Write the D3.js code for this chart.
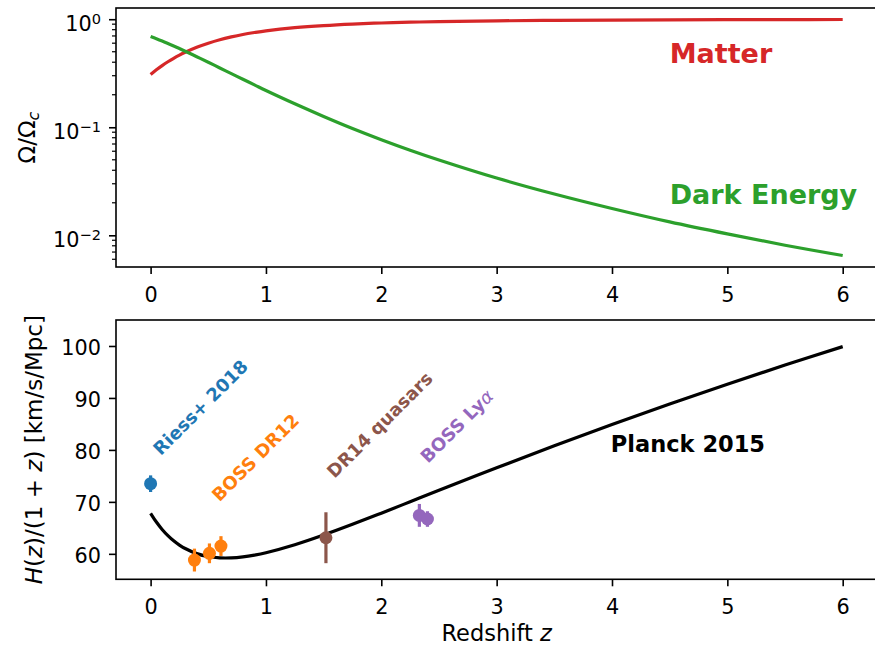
<!DOCTYPE html>
<html>
<head>
<meta charset="utf-8">
<script src="https://cdn.jsdelivr.net/npm/d3@7"></script>
<style>
  html, body { margin: 0; padding: 0; background: #ffffff; }
  svg { display: block; font-family: "DejaVu Sans", sans-serif; }
</style>
</head>
<body>
<svg id="chart" width="875" height="647"></svg>
<script>
// Redshift grid for the model curves
const redshift = [0, 0.05, 0.1, 0.15, 0.2, 0.25, 0.3, 0.4, 0.5, 0.6, 0.7, 0.8, 0.9, 1.0,
  1.25, 1.5, 1.75, 2.0, 2.25, 2.5, 3.0, 3.5, 4.0, 4.5, 5.0, 5.5, 6.0];
// Density fractions
const omegaMatter = [0.308, 0.340, 0.372, 0.404, 0.435, 0.465, 0.494, 0.550, 0.600, 0.646,
  0.686, 0.722, 0.753, 0.781, 0.835, 0.874, 0.9025, 0.923, 0.9386, 0.950, 0.966, 0.976,
  0.982, 0.987, 0.990, 0.992, 0.9935];
const omegaDarkEnergy = [0.692, 0.660, 0.628, 0.596, 0.565, 0.535, 0.506, 0.450, 0.400,
  0.354, 0.314, 0.278, 0.247, 0.219, 0.165, 0.126, 0.0975, 0.0768, 0.0614, 0.0498, 0.0339,
  0.0241, 0.0177, 0.0133, 0.0103, 0.0081, 0.0065];
// Planck 2015 expansion rate H(z)/(1+z)
const planckRate = [67.8, 66.12, 64.70, 63.51, 62.51, 61.69, 61.02, 60.04, 59.48, 59.23,
  59.23, 59.42, 59.76, 60.22, 61.76, 63.63, 65.68, 67.83, 70.02, 72.22, 76.56, 80.80,
  84.89, 88.84, 92.65, 96.32, 99.88];

// Measurements
const riessZ = [0.0],            riessH = [73.5],             riessErr = [1.6];
const bossZ = [0.38, 0.51, 0.61], bossH = [58.8, 60.1, 61.5],  bossErr = [2.2, 1.9, 1.9];
const qsoZ = [1.52],             qsoH = [63.1],               qsoErr = [4.9];
const lyaZ = [2.33, 2.40],       lyaH = [67.4, 66.7],         lyaErr = [2.2, 1.5];

// Tick values
const zTicks = [0, 1, 2, 3, 4, 5, 6];
const omegaTicks = [1, 0.1, 0.01];
const omegaTickLabels = [["10", "0"], ["10", "\u22121"], ["10", "\u22122"]];
const rateTicks = [60, 70, 80, 90, 100];

const svg = d3.select("#chart");
const FONT = "DejaVu Sans";
const TICK_FS = 20.8;
const LABEL_FS = 23;

const left = 116, right = 877.3;
const topPanel = { top: 8, bottom: 267 };
const botPanel = { top: 320, bottom: 579.3 };

const x = d3.scaleLinear().domain([-0.3, 6.3]).range([left, right]);
const yTop = d3.scaleLog().domain([0.00509, 1.27]).range([topPanel.bottom, topPanel.top]);
const yBot = d3.scaleLinear().domain([55.1, 105]).range([botPanel.bottom, botPanel.top]);

function styleAxis(g) {
  g.select(".domain").remove();
  g.selectAll(".tick line").attr("stroke", "#000").attr("stroke-width", 1.6);
  g.selectAll(".tick text").attr("fill", "#000").attr("font-size", TICK_FS).attr("font-family", FONT);
}

function panelFrame(p) {
  svg.append("rect")
    .attr("x", left).attr("y", p.top)
    .attr("width", right - left).attr("height", p.bottom - p.top)
    .attr("fill", "none").attr("stroke", "#000").attr("stroke-width", 1.6);
}

// ---------- Top panel: density fractions ----------
const gTopX = svg.append("g").attr("transform", `translate(0,${topPanel.bottom})`)
  .call(d3.axisBottom(x).tickValues(zTicks).tickFormat(d3.format("d")).tickSize(7).tickPadding(13));
styleAxis(gTopX);

// minor log ticks
const minorTicks = [];
[0.001, 0.01, 0.1].forEach(dec => {
  for (let k = 2; k <= 9; k++) {
    const v = k * dec;
    if (v >= yTop.domain()[0] && v <= yTop.domain()[1]) minorTicks.push(v);
  }
});
svg.append("g").selectAll("line").data(minorTicks).join("line")
  .attr("x1", left - 4).attr("x2", left)
  .attr("y1", d => yTop(d)).attr("y2", d => yTop(d))
  .attr("stroke", "#000").attr("stroke-width", 1.2);

const gTopY = svg.append("g").attr("transform", `translate(${left},0)`)
  .call(d3.axisLeft(yTop).tickValues(omegaTicks).tickSize(7).tickPadding(8).tickFormat(""));
styleAxis(gTopY);
gTopY.selectAll(".tick text").each(function(d, i) {
  const t = d3.select(this).text(null).attr("dy", "0.55em");
  t.append("tspan").text(omegaTickLabels[i][0]);
  t.append("tspan").attr("font-size", TICK_FS * 0.7).attr("dy", -7.5).text(omegaTickLabels[i][1]);
});

const lineTop = (vals) => d3.line()
  .x((d, i) => x(redshift[i]))
  .y((d) => yTop(d))
  .curve(d3.curveCatmullRom.alpha(0.5))(vals);

svg.append("path").attr("d", lineTop(omegaMatter))
  .attr("fill", "none").attr("stroke", "#d62728").attr("stroke-width", 3.2);
svg.append("path").attr("d", lineTop(omegaDarkEnergy))
  .attr("fill", "none").attr("stroke", "#2ca02c").attr("stroke-width", 3.2);

svg.append("text").attr("x", x(4.5)).attr("y", yTop(0.39))
  .attr("font-size", 27).attr("font-weight", "bold").attr("fill", "#d62728").text("Matter");
svg.append("text").attr("x", x(4.5)).attr("y", yTop(0.0195))
  .attr("font-size", 27).attr("font-weight", "bold").attr("fill", "#2ca02c").text("Dark Energy");

// y label  Ω/Ω_c
const yl1 = svg.append("text")
  .attr("transform", `translate(35,${(topPanel.top + topPanel.bottom) / 2}) rotate(-90)`)
  .attr("text-anchor", "middle").attr("font-size", LABEL_FS).attr("fill", "#000");
yl1.append("tspan").text("\u03A9/\u03A9");
yl1.append("tspan").attr("font-style", "italic").attr("font-size", LABEL_FS * 0.7).attr("dy", 4).text("c");

panelFrame(topPanel);

// ---------- Bottom panel: expansion rate ----------
const gBotX = svg.append("g").attr("transform", `translate(0,${botPanel.bottom})`)
  .call(d3.axisBottom(x).tickValues(zTicks).tickFormat(d3.format("d")).tickSize(7).tickPadding(13));
styleAxis(gBotX);

const gBotY = svg.append("g").attr("transform", `translate(${left},0)`)
  .call(d3.axisLeft(yBot).tickValues(rateTicks).tickSize(7).tickPadding(8));
styleAxis(gBotY);
gBotY.selectAll(".tick text").attr("dy", "0.41em");

const lineBot = d3.line()
  .x((d, i) => x(redshift[i]))
  .y((d) => yBot(d))
  .curve(d3.curveCatmullRom.alpha(0.5));
svg.append("path").attr("d", lineBot(planckRate))
  .attr("fill", "none").attr("stroke", "#000").attr("stroke-width", 3.2);

function errorPoints(zs, hs, errs, color) {
  const g = svg.append("g");
  const pts = zs.map((z, i) => ({ z, h: hs[i], e: errs[i] }));
  g.selectAll("line").data(pts).join("line")
    .attr("x1", d => x(d.z)).attr("x2", d => x(d.z))
    .attr("y1", d => yBot(d.h - d.e)).attr("y2", d => yBot(d.h + d.e))
    .attr("stroke", color).attr("stroke-width", 3.2);
  g.selectAll("circle").data(pts).join("circle")
    .attr("cx", d => x(d.z)).attr("cy", d => yBot(d.h)).attr("r", 6.5)
    .attr("fill", color);
}
errorPoints(riessZ, riessH, riessErr, "#1f77b4");
errorPoints(bossZ, bossH, bossErr, "#ff7f0e");
errorPoints(qsoZ, qsoH, qsoErr, "#8c564b");
errorPoints(lyaZ, lyaH, lyaErr, "#9467bd");

function rotLabel(z, h, color, parts) {
  const t = svg.append("text")
    .attr("transform", `translate(${x(z)},${yBot(h)}) rotate(-45)`)
    .attr("font-size", 18).attr("font-weight", "bold").attr("fill", color);
  parts.forEach(p => {
    const s = t.append("tspan").text(p.text);
    if (p.italic) s.attr("font-style", "italic").attr("font-weight", "normal");
  });
}
rotLabel(0.088, 78.8, "#1f77b4", [{ text: "Riess+ 2018" }]);
rotLabel(0.598, 69.9, "#ff7f0e", [{ text: "BOSS DR12" }]);
rotLabel(1.595, 74.4, "#8c564b", [{ text: "DR14 quasars" }]);
rotLabel(2.405, 77.3, "#9467bd", [{ text: "BOSS Ly" }, { text: "\u03B1", italic: true }]);

svg.append("text").attr("x", x(3.99)).attr("y", yBot(79.6))
  .attr("font-size", 22.5).attr("font-weight", "bold").attr("fill", "#000").text("Planck 2015");

// y label  H(z)/(1 + z) [km/s/Mpc]
const yl2 = svg.append("text")
  .attr("transform", `translate(41.5,${(botPanel.top + botPanel.bottom) / 2}) rotate(-90)`)
  .attr("text-anchor", "middle").attr("font-size", LABEL_FS).attr("fill", "#000");
[["H", true], ["(", false], ["z", true], [")/(1 + ", false], ["z", true], [") [km/s/Mpc]", false]]
  .forEach(([s, it]) => {
    const sp = yl2.append("tspan").text(s);
    if (it) sp.attr("font-style", "italic");
  });

// x label
const xl = svg.append("text")
  .attr("x", (left + right) / 2).attr("y", 640.5)
  .attr("text-anchor", "middle").attr("font-size", 22.5).attr("fill", "#000");
xl.append("tspan").text("Redshift ");
xl.append("tspan").attr("font-style", "italic").text("z");

panelFrame(botPanel);
</script>
</body>
</html>
